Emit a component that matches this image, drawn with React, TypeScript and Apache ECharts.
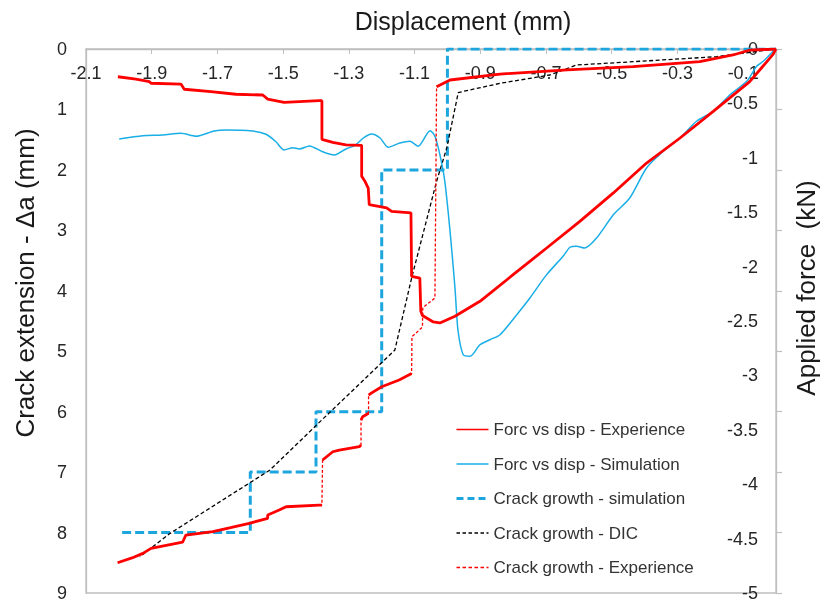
import React, { useEffect, useRef } from "react";
import * as echarts from "echarts";

// Displacement tick labels (top axis)
const dispTickLabels = [-2.1, -1.9, -1.7, -1.5, -1.3, -1.1, -0.9, -0.7, -0.5, -0.3, -0.1];

// Force vs displacement - experiment  [displacement mm, force kN]
const forceExperience: number[][] = [
  [0, 0], [-0.009, -0.05], [-0.08, -0.3], [-0.191, -0.573], [-0.292, -0.818], [-0.394, -1.048],
  [-0.495, -1.323], [-0.597, -1.584], [-0.698, -1.829], [-0.8, -2.074], [-0.901, -2.319],
  [-0.977, -2.457], [-1.023, -2.518], [-1.043, -2.509], [-1.076, -2.45], [-1.081, -2.411],
  [-1.084, -2.105], [-1.109, -2.089], [-1.111, -1.507], [-1.17, -1.492], [-1.185, -1.461],
  [-1.238, -1.431], [-1.241, -1.278], [-1.251, -1.216], [-1.261, -1.17], [-1.261, -0.885],
  [-1.309, -0.882], [-1.349, -0.858], [-1.382, -0.83], [-1.382, -0.475], [-1.39, -0.475],
  [-1.497, -0.49], [-1.547, -0.46], [-1.562, -0.423], [-1.644, -0.416], [-1.72, -0.392],
  [-1.801, -0.37], [-1.811, -0.322], [-1.902, -0.315], [-1.907, -0.3], [-1.948, -0.276],
  [-2.003, -0.255],
];

// Force vs displacement - simulation  [displacement mm, force kN]
const forceSimulation: number[][] = [
  [0, 0], [-0.009, -0.021], [-0.039, -0.113], [-0.059, -0.159], [-0.089, -0.297], [-0.14, -0.42],
  [-0.191, -0.573], [-0.242, -0.664], [-0.292, -0.818], [-0.343, -0.94], [-0.394, -1.094],
  [-0.445, -1.369], [-0.495, -1.523], [-0.546, -1.737], [-0.582, -1.829], [-0.607, -1.813],
  [-0.627, -1.822], [-0.648, -1.905], [-0.698, -2.074], [-0.749, -2.288], [-0.789, -2.442],
  [-0.84, -2.626], [-0.871, -2.672], [-0.901, -2.718], [-0.931, -2.824], [-0.952, -2.81],
  [-0.968, -2.583], [-0.977, -2.197], [-0.992, -1.676], [-1.008, -1.216], [-1.023, -0.971],
  [-1.038, -0.802], [-1.053, -0.751], [-1.089, -0.894], [-1.114, -0.848], [-1.145, -0.864],
  [-1.18, -0.903], [-1.205, -0.818], [-1.231, -0.781], [-1.256, -0.818], [-1.281, -0.885],
  [-1.309, -0.919], [-1.344, -0.974], [-1.38, -0.944], [-1.42, -0.891], [-1.451, -0.919],
  [-1.471, -0.907], [-1.497, -0.928], [-1.522, -0.852], [-1.552, -0.784], [-1.593, -0.754],
  [-1.674, -0.744], [-1.71, -0.754], [-1.765, -0.802], [-1.811, -0.775], [-1.867, -0.79],
  [-1.927, -0.797], [-1.999, -0.827],
];

// Crack growth - simulation  [displacement mm, crack extension mm]
const crackSimulation: number[][] = [
  [-1.99, 8], [-1.6, 8], [-1.6, 7], [-1.4, 7], [-1.4, 6], [-1.2, 6], [-1.2, 2], [-1.0, 2], [-1.0, 0], [0, 0],
];

// Crack growth - DIC  [displacement mm, crack extension mm]
const crackDIC: number[][] = [
  [0, 0], [-0.181, 0.127], [-0.435, 0.21], [-0.607, 0.265], [-0.688, 0.43], [-0.84, 0.568],
  [-0.967, 0.72], [-1.002, 1.638], [-1.033, 2.189], [-1.109, 3.789], [-1.16, 4.98],
  [-1.393, 6.193], [-1.54, 6.965], [-1.844, 8.013], [-1.936, 8.4],
];

// Crack growth - experiment  [displacement mm, crack extension mm]
const crackExperience: number[][] = [
  [0, 0], [-0.079, 0.017], [-0.131, 0.099], [-0.232, 0.21], [-0.435, 0.293], [-0.636, 0.347],
  [-0.84, 0.414], [-0.992, 0.513], [-1.033, 0.624], [-1.038, 4.12], [-1.075, 4.28], [-1.076, 4.6],
  [-1.108, 4.76], [-1.109, 5.37], [-1.147, 5.476], [-1.2, 5.587], [-1.233, 5.697], [-1.24, 5.725],
  [-1.24, 6.027], [-1.258, 6.083], [-1.263, 6.138], [-1.263, 6.552], [-1.268, 6.58], [-1.329, 6.635],
  [-1.349, 6.663], [-1.38, 6.8], [-1.382, 7.545], [-1.39, 7.545], [-1.491, 7.573], [-1.512, 7.627],
  [-1.547, 7.71], [-1.547, 7.765], [-1.603, 7.847], [-1.66, 7.92], [-1.714, 7.986], [-1.796, 8.041],
  [-1.806, 8.16], [-1.902, 8.261], [-1.927, 8.344], [-1.96, 8.42], [-2.004, 8.499],
];

const NAMES = [
  "Forc vs disp - Experience",
  "Forc vs disp - Simulation",
  "Crack growth - simulation",
  "Crack growth - DIC",
  "Crack growth - Experience",
];

const RED = "#ff0000";
const BLUE = "#1aaee6";
const BLUE_DASH = "#1ca6dd";
const GRAY = "#bfbfbf";
const FONT = '"Liberation Sans", Arial, sans-serif';

// Dense recorded parts are drawn solid; the sparse jumps between them stay dotted.
function denseParts(points: number[][], jump: number): (number | string)[][] {
  const out: (number | string)[][] = [];
  for (let i = 0; i < points.length; i++) {
    if (i > 0 && Math.abs(points[i][1] - points[i - 1][1]) > jump) {
      out.push([points[i][0], "-"]);
    }
    out.push(points[i]);
  }
  return out;
}

export default function App() {
  const ref = useRef<HTMLDivElement>(null);
  useEffect(() => {
    if (!ref.current) return;
    const chart = echarts.init(ref.current, null, { renderer: "svg" });
    const hidden = { opacity: 0 };
    const option: any = {
      animation: false,
      textStyle: { fontFamily: FONT },
      grid: { left: 86, top: 49, right: 55, bottom: 9, show: true, borderColor: GRAY, borderWidth: 1.3 },
      xAxis: {
        type: "value",
        position: "top",
        min: -2.1,
        max: 0,
        axisLine: { show: true, onZero: false, lineStyle: { color: GRAY, width: 1.3 } },
        axisTick: { show: true, inside: true, length: 5, customValues: dispTickLabels, lineStyle: { color: GRAY } },
        axisLabel: {
          inside: true,
          margin: 15,
          customValues: dispTickLabels,
          fontSize: 18,
          color: "#262626",
          fontFamily: FONT,
          formatter: (v: number) => v.toFixed(1),
        },
        splitLine: { show: false },
      },
      yAxis: [
        {
          type: "value",
          position: "left",
          inverse: true,
          min: 0,
          max: 9,
          interval: 1,
          axisLine: { show: true, onZero: false, lineStyle: { color: GRAY, width: 1.3 } },
          axisTick: { show: false },
          axisLabel: { margin: 19, fontSize: 18, color: "#262626", fontFamily: FONT },
          splitLine: { show: false },
        },
        {
          type: "value",
          position: "right",
          min: -5,
          max: 0,
          interval: 0.5,
          axisLine: { show: true, onZero: false, lineStyle: { color: GRAY, width: 1.3 } },
          axisTick: { show: false },
          axisLabel: { inside: true, margin: 18, fontSize: 18, color: "#262626", fontFamily: FONT },
          splitLine: { show: false },
        },
        {
          type: "value",
          position: "right",
          inverse: true,
          min: 0,
          max: 9,
          interval: 1,
          axisLine: { show: false },
          axisTick: { show: true, length: 6, lineStyle: { color: GRAY, width: 1.2 } },
          axisLabel: { show: false },
          splitLine: { show: false },
        },
      ],
      legend: {
        orient: "vertical",
        left: 455,
        top: 421,
        padding: 0,
        itemWidth: 32,
        itemHeight: 12,
        itemGap: 17.5,
        itemTextGap: 4,
        textStyle: { fontSize: 17, color: "#333333", fontFamily: FONT },
        data: [
          { name: NAMES[0], itemStyle: hidden, lineStyle: { width: 1.5 } },
          { name: NAMES[1], itemStyle: hidden, lineStyle: { width: 1.5 } },
          { name: NAMES[2], itemStyle: hidden, lineStyle: { width: 3, type: [7, 4] } },
          { name: NAMES[3], itemStyle: hidden, lineStyle: { width: 1.3, type: [3.5, 2.5] } },
          { name: NAMES[4], itemStyle: hidden, lineStyle: { width: 1.3, type: [3.5, 2.5] } },
        ],
      },
      graphic: [
        {
          type: "text",
          x: 463,
          y: 21,
          style: { text: "Displacement (mm)", font: `25px ${FONT}`, fill: "#1a1a1a", textAlign: "center", textVerticalAlign: "middle" },
        },
        {
          type: "text",
          x: 25,
          y: 283,
          rotation: Math.PI / 2,
          style: { text: "Crack extension - Δa (mm)", font: `26px ${FONT}`, fill: "#1a1a1a", textAlign: "center", textVerticalAlign: "middle" },
        },
        {
          type: "text",
          x: 806,
          y: 288,
          rotation: Math.PI / 2,
          style: { text: "Applied force  (kN)", font: `26px ${FONT}`, fill: "#1a1a1a", textAlign: "center", textVerticalAlign: "middle" },
        },
      ],
      series: [
        {
          name: NAMES[2],
          type: "line",
          yAxisIndex: 0,
          data: crackSimulation,
          symbol: "none",
          lineStyle: { color: BLUE_DASH, width: 3, type: [9, 4] },
          itemStyle: { color: BLUE_DASH },
        },
        {
          name: NAMES[3],
          type: "line",
          yAxisIndex: 0,
          data: crackDIC,
          symbol: "none",
          lineStyle: { color: "#000000", width: 1.3, type: [4, 2.5] },
          itemStyle: { color: "#000000" },
        },
        {
          name: NAMES[1],
          type: "line",
          yAxisIndex: 1,
          data: forceSimulation,
          symbol: "none",
          smooth: 0.25,
          lineStyle: { color: BLUE, width: 1.5 },
          itemStyle: { color: BLUE },
        },
        {
          name: NAMES[4],
          type: "line",
          yAxisIndex: 0,
          data: crackExperience,
          symbol: "none",
          lineStyle: { color: RED, width: 1.3, type: [3, 2] },
          itemStyle: { color: RED },
        },
        {
          name: "crack-experience-dense",
          type: "line",
          yAxisIndex: 0,
          data: denseParts(crackExperience, 0.15),
          symbol: "none",
          connectNulls: false,
          lineStyle: { color: RED, width: 2.8 },
          itemStyle: { color: RED },
        },
        {
          name: NAMES[0],
          type: "line",
          yAxisIndex: 1,
          data: forceExperience,
          symbol: "none",
          lineStyle: { color: RED, width: 2.8 },
          itemStyle: { color: RED },
        },
      ],
    };
    chart.setOption(option);
    return () => chart.dispose();
  }, []);
  return <div ref={ref} style={{ position: "fixed", left: 0, top: 0, width: 831, height: 602 }} />;
}
